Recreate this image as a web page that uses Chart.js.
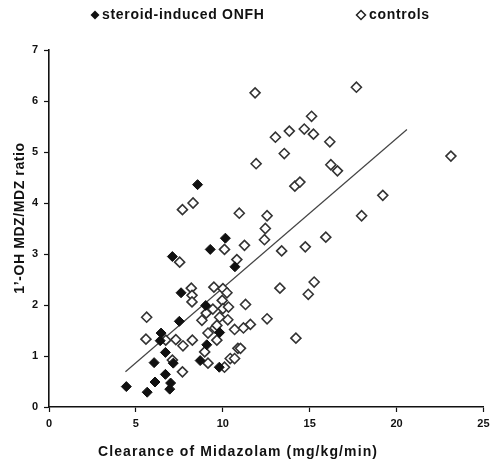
<!DOCTYPE html>
<html>
<head>
<meta charset="utf-8">
<script src="https://cdn.jsdelivr.net/npm/chart.js@4.4.1/dist/chart.umd.min.js"></script>
<style>
  body { margin: 0; background: #fff; }
  #wrap { width: 490px; height: 464px; }
</style>
</head>
<body>
<div id="wrap"><canvas id="myChart" width="490" height="464"></canvas></div>
<script>
// values
const onfhClearance = [4.45, 5.65, 6.10, 6.05, 6.70, 6.95, 7.00, 6.45, 6.40, 6.70, 7.15, 7.10,
  7.60, 7.50, 8.55, 9.28, 10.15, 9.02, 9.08, 8.70, 9.80, 9.82, 10.70];
const onfhRatio = [0.40, 0.29, 0.49, 0.87, 0.64, 0.35, 0.47, 1.45, 1.30, 1.07, 0.86, 2.95,
  2.24, 1.68, 4.36, 3.09, 3.31, 1.99, 1.22, 0.91, 0.78, 1.46, 2.75];

const controlClearance = [5.62, 5.58, 6.72, 7.30, 7.71, 7.10, 7.68, 7.68, 8.29, 7.52, 8.19, 8.23,
  8.23, 8.25, 8.80, 9.05, 9.49, 9.43, 9.15, 9.55, 8.96, 9.15, 9.66, 9.66, 10.10, 10.01, 9.97,
  10.01, 10.24, 10.33, 10.29, 10.68, 10.10, 10.43, 10.68, 10.87, 10.95, 10.81, 11.92, 12.55,
  12.45, 12.40, 11.25, 11.31, 12.55, 11.59, 11.19, 11.02, 13.29, 15.26, 14.92, 14.21, 13.39,
  14.75, 15.93, 17.99, 19.21, 23.13, 14.15, 14.44, 16.22, 16.60, 13.54, 13.03, 13.83, 14.69,
  15.22, 15.11, 16.16, 11.86, 17.69, 9.82];
const controlRatio = [1.76, 1.33, 1.31, 1.32, 1.20, 0.92, 0.69, 3.87, 4.00, 2.84, 2.33, 2.19,
  2.06, 1.31, 1.70, 1.84, 2.35, 1.92, 1.45, 1.55, 1.08, 0.86, 1.60, 1.31, 3.09, 2.32, 2.09,
  1.93, 2.24, 1.96, 1.71, 1.52, 0.78, 0.95, 0.95, 1.15, 3.80, 2.89, 4.77, 3.75,
  3.50, 3.28, 3.17, 2.01, 1.73, 1.62, 1.55, 1.15, 2.33, 2.45, 2.21, 1.35, 3.06,
  3.14, 3.33, 3.75, 4.15, 4.92, 4.33, 4.41, 4.75, 4.63, 4.97, 5.29, 5.41, 5.45,
  5.35, 5.70, 5.20, 6.16, 6.27, 1.76];

// regression line ends
const trendX = [4.4, 20.6];
const trendY = [0.69, 5.44];

const xTicks = [0, 5, 10, 15, 20, 25];
const yTicks = [0, 1, 2, 3, 4, 5, 6, 7];

const seriesNames = ['steroid-induced ONFH', 'controls'];
const xTitle = 'Clearance of Midazolam (mg/kg/min)';
const yTitle = '1\u2019-OH MDZ/MDZ ratio';

const toPoints = (xs, ys) => xs.map((x, i) => ({x: x, y: ys[i]}));

const FONT = "'Liberation Sans', Arial, sans-serif";

function diamond(c, x, y, r, filled){
  c.beginPath();
  c.moveTo(x, y - r);
  c.lineTo(x + r, y);
  c.lineTo(x, y + r);
  c.lineTo(x - r, y);
  c.closePath();
  if (filled) { c.fill(); }
  else { c.lineWidth = 1.5; c.strokeStyle = '#222'; c.stroke(); }
}

// legend and axis titles, drawn by hand so the spacing can follow the picture
const labelsPlugin = {
  id: 'labels',
  afterDraw(chart){
    const c = chart.ctx;
    const area = chart.chartArea;
    c.save();
    c.fillStyle = '#111';
    c.textBaseline = 'middle';
    c.font = `bold 14px ${FONT}`;
    c.letterSpacing = '0.7px';
    diamond(c, 95, 15, 4.5, true);
    c.fillText(seriesNames[0], 102, 15);
    diamond(c, 361, 15, 4.5, false);
    c.fillText(seriesNames[1], 369, 15);

    c.textAlign = 'center';
    c.letterSpacing = '1.1px';
    c.fillText(xTitle, area.left + 189, 452);

    c.letterSpacing = '0.6px';
    c.translate(20, area.top + 168);
    c.rotate(-Math.PI / 2);
    c.fillText(yTitle, 0, 0);
    c.restore();
  }
};

const ctx = document.getElementById('myChart').getContext('2d');

const myChart = new Chart(ctx, {
  type: 'scatter',
  data: {
    datasets: [{
      label: seriesNames[0],
      data: toPoints(onfhClearance, onfhRatio),
      pointStyle: 'rectRot',
      pointRadius: 5,
      backgroundColor: '#111',
      borderColor: '#111',
      borderWidth: 1,
      order: 1
    }, {
      label: seriesNames[1],
      data: toPoints(controlClearance, controlRatio),
      pointStyle: 'rectRot',
      pointRadius: 5,
      backgroundColor: '#fff',
      borderColor: '#333',
      borderWidth: 1.6,
      order: 2
    }, {
      label: 'trend',
      type: 'line',
      data: toPoints(trendX, trendY),
      showLine: true,
      pointRadius: 0,
      borderColor: '#444',
      borderWidth: 1.2,
      order: 3
    }]
  },
  options: {
    responsive: false,
    animation: false,
    layout: { padding: {top: 50, left: 0, right: 5, bottom: 0} },
    plugins: {
      tooltip: { enabled: false },
      legend: { display: false }
    },
    scales: {
      x: {
        min: 0, max: 25,
        afterBuildTicks: scale => { scale.ticks = xTicks.map(v => ({value: v})); },
        afterFit: scale => { scale.paddingRight = 0; scale.paddingLeft = 0; scale.height = 57; },
        grid: { drawOnChartArea: false, color: '#111', tickLength: 5, tickWidth: 1.2 },
        border: { color: '#111', width: 1.6 },
        ticks: { color: '#111', padding: 5, font: { family: FONT, size: 11, weight: 'bold' } }
      },
      y: {
        min: 0, max: 7,
        afterBuildTicks: scale => { scale.ticks = yTicks.map(v => ({value: v})); },
        afterFit: scale => { scale.width = 49; scale.paddingTop = 0; scale.paddingBottom = 0; },
        grid: { drawOnChartArea: false, color: '#111', tickLength: 5, tickWidth: 1.2 },
        border: { color: '#111', width: 1.6 },
        ticks: { color: '#111', padding: 6, font: { family: FONT, size: 11, weight: 'bold' } }
      }
    }
  },
  plugins: [labelsPlugin]
});
</script>
</body>
</html>
